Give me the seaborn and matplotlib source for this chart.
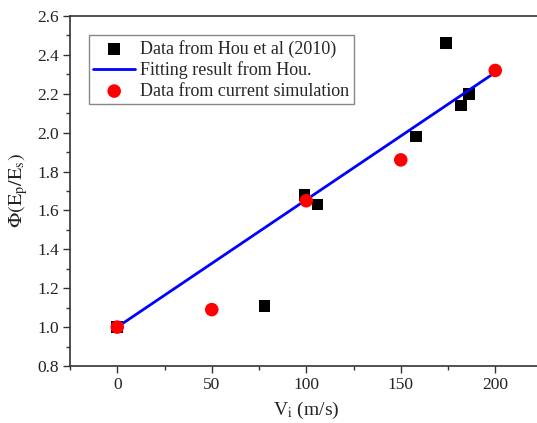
import matplotlib
matplotlib.use("Agg")
import matplotlib.pyplot as plt
import seaborn as sns
import pandas as pd
from matplotlib.ticker import MultipleLocator

hou_v = [0, 78, 99, 106, 158, 174, 182, 186]
hou_phi = [1.00, 1.11, 1.68, 1.63, 1.98, 2.46, 2.14, 2.20]
fit_v = [0, 200]
fit_phi = [1.00, 2.31]
sim_v = [0, 50, 100, 150, 200]
sim_phi = [1.00, 1.09, 1.65, 1.86, 2.32]

sns.set_style("ticks")
plt.rcParams['font.family'] = ['Liberation Serif', 'DejaVu Serif']
plt.rcParams['mathtext.fontset'] = 'stix'

fig = plt.figure(figsize=(5.37, 4.23), dpi=100)
ax = fig.add_axes([70/537, 1-366/423, 472.5/537, 350/423])

sns.scatterplot(x=hou_v, y=hou_phi, marker='s', color='black', s=70, edgecolor='none',
                ax=ax, label='Data from Hou et al (2010)', zorder=3)
sns.lineplot(x=fit_v, y=fit_phi, color='#0000ff', lw=2, ax=ax,
             label='Fitting result from Hou.', zorder=4)
sns.scatterplot(x=sim_v, y=sim_phi, marker='o', color='#ff0000', s=95, edgecolor='none',
                ax=ax, label='Data from current simulation', zorder=5)

ax.set_xlim(-25, 225)
ax.set_ylim(0.8, 2.6)
ax.xaxis.set_major_locator(MultipleLocator(50))
ax.xaxis.set_minor_locator(MultipleLocator(25))
ax.yaxis.set_major_locator(MultipleLocator(0.2))
ax.yaxis.set_minor_locator(MultipleLocator(0.1))
ax.set_xticks([0, 50, 100, 150, 200])
ax.tick_params(which='major', direction='out', length=5, width=1, labelsize=12.5,
               colors='#333333', labelcolor='#222222', pad=3)
ax.tick_params(which='minor', direction='out', length=3, width=1, colors='#333333')
ax.yaxis.set_major_formatter(matplotlib.ticker.FormatStrFormatter('%.1f'))
for sp in ax.spines.values():
    sp.set_linewidth(1.2)
    sp.set_color('#333333')

ax.set_xlabel(r'V$_\mathrm{i}$ (m/s)', fontsize=14, color='#222222', labelpad=5)
ax.set_ylabel(r'$\Phi(\mathrm{E_p/E_s})$', fontsize=14.5, color='#222222', labelpad=5)

leg = ax.legend(loc='upper left', bbox_to_anchor=(0.04, 0.945), fontsize=13, frameon=True,
                fancybox=False, edgecolor='#888888', framealpha=1, borderpad=0.25,
                labelspacing=0.2, handlelength=2.3, handletextpad=0.3, borderaxespad=0)
leg.get_frame().set_linewidth(1)

fig.savefig('out.png', dpi=100)
